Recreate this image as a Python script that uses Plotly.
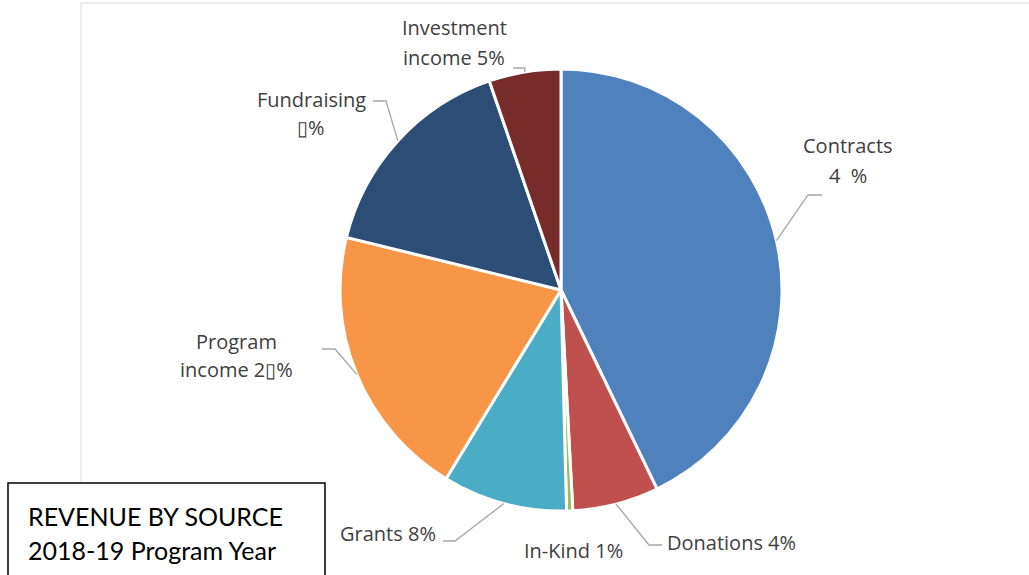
import math
import plotly.graph_objects as go

W, H = 1029, 575

categories = ["Contracts", "Donations", "In-Kind", "Grants", "Program income", "Fundraising", "Investment income"]
values = [42.8, 6.3, 0.45, 9.1, 20.1, 15.9, 5.25]
label_texts = ["Contracts<br>4  %", "Donations 4%", "In-Kind 1%", "Grants 8%",
               "Program<br>income 2▯%", "Fundraising<br>▯%", "Investment<br>income 5%"]
colors = ["#4F81BD", "#C0504D", "#9BBB59", "#4BACC6", "#F79646", "#2C4D75", "#772C2A"]
title_lines = ["REVENUE BY SOURCE", "2018-19 Program Year"]

# pie geometry (pixels)
cx, cy, R = 561, 290, 221

# label placement: pixel anchor of label block (first-line y), alignment
label_pos = [(848, 146, "center"), (665, 542, "left"), (573, 550, "center"), (438, 533, "right"),
             (236, 341, "center"), (311, 99, "center"), (454, 28, "center")]
leader = [((808, 195), (822, 195)), ((649, 545), (662, 545)), None, ((455, 541), (443, 541)),
          ((335, 349), (322, 349)), ((386, 101), (373, 101)), ((525, 68), (513, 68))]
LINE = 29

def px(x):
    return x / W

def py(y):
    return 1 - y / H

fig = go.Figure()
fig.add_trace(go.Pie(
    labels=categories, values=values, sort=False, direction="clockwise", rotation=0,
    marker=dict(colors=colors, line=dict(color="white", width=3)),
    textinfo="none", hoverinfo="label+percent", showlegend=False,
    domain=dict(x=[px(cx - R), px(cx + R)], y=[py(cy + R), py(cy - R)]),
))

total = sum(values)
cum = 0
shapes = []
annotations = []
for i, v in enumerate(values):
    mid = (cum + v / 2) / total * 2 * math.pi
    cum += v
    sx = cx + R * math.sin(mid)
    sy = cy - R * math.cos(mid)
    if leader[i] is not None:
        (ex, ey), (fx, fy) = leader[i]
        path = f"M {px(sx)} {py(sy)} L {px(ex)} {py(ey)} L {px(fx)} {py(fy)}"
        shapes.append(dict(type="path", xref="paper", yref="paper", path=path,
                           line=dict(color="#A6A6A6", width=1.3)))
    lx, ly, al = label_pos[i]
    for k, line in enumerate(label_texts[i].split("<br>")):
        annotations.append(dict(x=px(lx), y=py(ly + k * LINE), xref="paper", yref="paper", text=line,
                                showarrow=False, xanchor=al, yanchor="middle", align=al,
                                font=dict(family="Open Sans", size=20, color="#404040")))

# chart area border
shapes.append(dict(type="rect", xref="paper", yref="paper", x0=px(81), y0=py(3), x1=px(1035), y1=py(590),
                   line=dict(color="#D9D9D9", width=1), layer="below"))
# title box
shapes.append(dict(type="rect", xref="paper", yref="paper", x0=px(8), y0=py(483), x1=px(325), y1=py(580),
                   line=dict(color="#000000", width=1.5), fillcolor="white"))
for k, line in enumerate(title_lines):
    annotations.append(dict(x=px(26), y=py(516 + k * 34), xref="paper", yref="paper",
                            text=line, showarrow=False, xanchor="left", yanchor="middle", align="left",
                            font=dict(family="Lato", size=25, color="#000000")))

fig.update_layout(width=W, height=H, margin=dict(l=0, r=0, t=0, b=0),
                  paper_bgcolor="white", plot_bgcolor="white",
                  shapes=shapes, annotations=annotations)
fig.write_html("out.html", config={"displayModeBar": False},
               post_script="document.body.style.margin='0';document.body.style.overflow='hidden';")
